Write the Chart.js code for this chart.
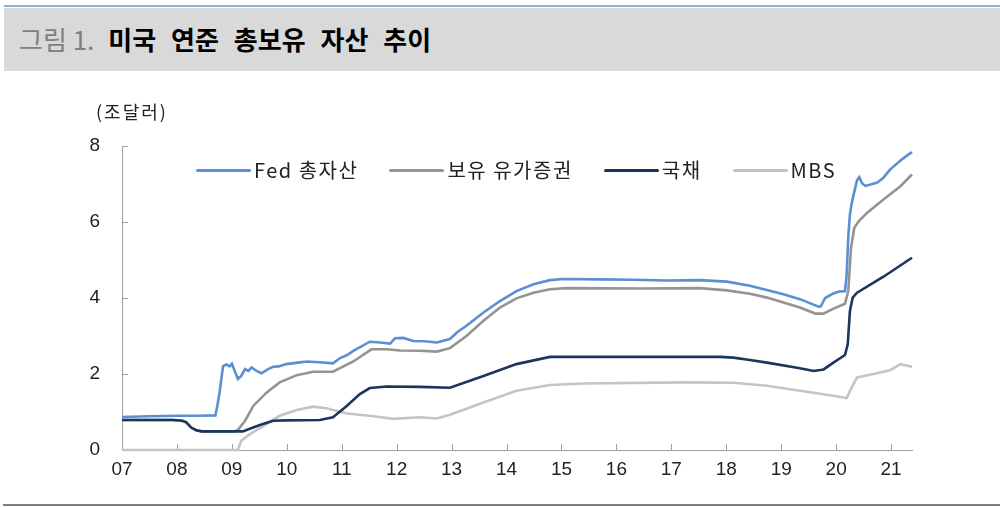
<!DOCTYPE html>
<html>
<head>
<meta charset="utf-8">
<script src="https://cdn.jsdelivr.net/npm/chart.js@4.4.1/dist/chart.umd.min.js"></script>
<style>
  html, body { margin:0; padding:0; background:#fff; width:1000px; height:507px; overflow:hidden; }
  body { position:relative; font-family:"Noto Sans CJK KR","Noto Sans",sans-serif; }
  #topline { position:absolute; left:4px; top:5px; width:996px; height:2px; background:#8CB0DE; }
  #titlebar { position:absolute; left:4px; top:8px; width:996px; height:63px; background:#D9D9D9; }
  #title { position:absolute; left:19px; top:7px; height:63px; line-height:63px; font-size:26px; white-space:nowrap; }
  #title .num { color:#808080; font-weight:400; }
  #title .main { color:#000; font-weight:700; word-spacing:9px; margin-left:14px; }
  #unit { position:absolute; left:96px; top:99px; font-size:18px; color:#222; line-height:24px; letter-spacing:2px; }
  #chartwrap { position:absolute; left:0; top:0; width:1000px; height:507px; }
  #legend { position:absolute; left:196px; top:157px; height:26px; display:flex; align-items:center; font-size:20px; color:#222; white-space:nowrap; }
  .item { display:flex; align-items:center; margin-right:31px; }
  .swatch { width:55px; height:3px; border-radius:2px; margin-right:3px; }
  .lbl { letter-spacing:1.5px; line-height:26px; }
  #bottomline { position:absolute; left:3px; top:504px; width:997px; height:2px; background:#808080; }
</style>
</head>
<body>
<div id="topline"></div>
<div id="titlebar"></div>
<div id="title"><span class="num">그림 1.</span><span class="main">미국 연준 총보유 자산 추이</span></div>
<div id="chartwrap"><canvas id="c" width="1000" height="507"></canvas></div>
<div id="unit">(조달러)</div>
<div id="legend"></div>
<div id="bottomline"></div>
<script>
// ---- Data (year as decimal, value in trillion USD) ----
const seriesNames = ['Fed 총자산', '보유 유가증권', '국채', 'MBS'];
const seriesColors = ['#5A8FD4', '#949494', '#1B365D', '#C4C4C4'];

const xTickYears = [2007,2008,2009,2010,2011,2012,2013,2014,2015,2016,2017,2018,2019,2020,2021];
const xTickLabels = ['07','08','09','10','11','12','13','14','15','16','17','18','19','20','21'];
const yTickValues = [0,2,4,6,8];

const fedX = [2007.0,2007.5,2008.0,2008.4,2008.70,2008.74,2008.78,2008.84,2008.90,2008.96,2009.0,2009.06,2009.11,2009.17,2009.24,2009.30,2009.36,2009.45,2009.54,2009.65,2009.75,2009.85,2009.99,2010.2,2010.36,2010.6,2010.84,2010.97,2011.1,2011.21,2011.35,2011.51,2011.7,2011.88,2011.97,2012.12,2012.3,2012.5,2012.73,2012.97,2013.1,2013.27,2013.58,2013.88,2014.18,2014.49,2014.79,2015.03,2015.7,2016.31,2016.92,2017.52,2018.01,2018.43,2019.04,2019.34,2019.68,2019.72,2019.80,2019.95,2020.05,2020.16,2020.19,2020.22,2020.25,2020.29,2020.33,2020.38,2020.42,2020.47,2020.53,2020.74,2020.85,2020.98,2021.17,2021.3,2021.38];
const fedY = [0.87,0.89,0.90,0.90,0.91,1.20,1.56,2.21,2.25,2.20,2.27,2.05,1.87,1.95,2.13,2.08,2.17,2.08,2.02,2.12,2.19,2.20,2.26,2.30,2.33,2.31,2.28,2.42,2.50,2.61,2.72,2.85,2.83,2.80,2.94,2.95,2.87,2.86,2.83,2.92,3.10,3.27,3.62,3.92,4.18,4.36,4.47,4.50,4.49,4.48,4.46,4.47,4.43,4.32,4.10,3.97,3.77,3.78,4.00,4.12,4.17,4.18,4.60,5.60,6.20,6.55,6.80,7.10,7.18,7.02,6.95,7.03,7.15,7.38,7.62,7.76,7.84];

const secX = [2007.0,2007.93,2008.10,2008.17,2008.26,2008.35,2008.45,2009.05,2009.11,2009.24,2009.39,2009.63,2009.87,2010.18,2010.48,2010.84,2011.21,2011.54,2011.82,2012.06,2012.42,2012.73,2012.97,2013.27,2013.58,2013.88,2014.18,2014.49,2014.79,2015.1,2016.5,2017.52,2018.01,2018.43,2018.74,2019.34,2019.62,2019.77,2019.95,2020.16,2020.22,2020.27,2020.33,2020.41,2020.56,2020.86,2021.17,2021.38];
const secY = [0.79,0.79,0.77,0.73,0.59,0.52,0.49,0.49,0.53,0.77,1.16,1.51,1.78,1.97,2.06,2.06,2.33,2.65,2.65,2.62,2.61,2.59,2.68,3.00,3.40,3.75,3.99,4.14,4.23,4.26,4.25,4.26,4.20,4.11,4.01,3.75,3.59,3.59,3.72,3.85,4.18,5.32,5.85,6.02,6.24,6.59,6.94,7.25];

const tsyX = [2007.0,2007.93,2008.10,2008.17,2008.26,2008.35,2008.45,2009.20,2009.35,2009.51,2009.75,2010.0,2010.6,2010.84,2011.09,2011.33,2011.51,2011.82,2012.42,2012.97,2013.58,2014.18,2014.79,2017.89,2018.13,2018.43,2018.74,2019.34,2019.59,2019.77,2019.95,2020.16,2020.21,2020.25,2020.30,2020.38,2020.86,2021.38];
const tsyY = [0.79,0.79,0.77,0.73,0.59,0.52,0.49,0.49,0.57,0.66,0.77,0.78,0.79,0.86,1.16,1.47,1.63,1.67,1.66,1.64,1.95,2.26,2.45,2.45,2.43,2.37,2.30,2.15,2.08,2.12,2.30,2.50,2.78,3.66,4.01,4.14,4.56,5.06];

const mbsX = [2007.0,2009.11,2009.17,2009.33,2009.63,2009.87,2010.18,2010.48,2010.72,2011.09,2011.51,2011.94,2012.42,2012.73,2012.97,2013.58,2014.18,2014.79,2015.4,2017.22,2018.13,2018.74,2019.34,2019.95,2020.19,2020.28,2020.38,2020.68,2020.98,2021.17,2021.38];
const mbsY = [0.00,0.00,0.24,0.42,0.68,0.90,1.05,1.14,1.10,0.96,0.90,0.82,0.86,0.83,0.93,1.25,1.56,1.71,1.75,1.78,1.77,1.69,1.56,1.43,1.37,1.64,1.91,2.00,2.10,2.26,2.19];

// ---- Build ----
function pts(xs, ys){ return xs.map((x,i)=>({x:x, y:ys[i]})); }
const allX = [fedX, secX, tsyX, mbsX];
const allY = [fedY, secY, tsyY, mbsY];
const drawOrder = [2, 3, 1, 4]; // lower = on top

const datasets = seriesNames.map((n,i)=>({
  label:n,
  data:pts(allX[i], allY[i]),
  borderColor:seriesColors[i],
  backgroundColor:seriesColors[i],
  borderWidth:2.6,
  pointRadius:0,
  tension:0,
  fill:false,
  order:drawOrder[i],
  clip:6
}));

// HTML legend
const leg = document.getElementById('legend');
seriesNames.forEach((n,i)=>{
  const it = document.createElement('div'); it.className='item';
  const sw = document.createElement('div'); sw.className='swatch'; sw.style.background=seriesColors[i];
  const lb = document.createElement('span'); lb.className='lbl'; lb.textContent=n;
  it.appendChild(sw); it.appendChild(lb); leg.appendChild(it);
});

const axisColor = '#A0A0A0';
const innerTicks = {
  id:'innerTicks',
  beforeDatasetsDraw(chart){
    const {ctx, chartArea, scales} = chart;
    ctx.save();
    ctx.strokeStyle = axisColor;
    ctx.lineWidth = 1;
    ctx.beginPath();
    yTickValues.forEach(v=>{
      const y = Math.round(scales.y.getPixelForValue(v)) + 0.5;
      ctx.moveTo(chartArea.left, y); ctx.lineTo(chartArea.left + 6, y);
    });
    xTickYears.forEach(v=>{
      if (v === xTickYears[0]) return;
      const x = Math.round(scales.x.getPixelForValue(v)) + 0.5;
      ctx.moveTo(x, chartArea.bottom); ctx.lineTo(x, chartArea.bottom - 6);
    });
    ctx.stroke();
    ctx.restore();
  }
};

new Chart(document.getElementById('c'), {
  type:'line',
  data:{ datasets },
  options:{
    responsive:false,
    animation:false,
    devicePixelRatio:1,
    layout:{ padding:{ left:0, right:88, top:146, bottom:0 } },
    plugins:{ legend:{ display:false }, tooltip:{ enabled:false } },
    scales:{
      x:{
        type:'linear',
        min:2007, max:2021.38,
        afterBuildTicks(scale){ scale.ticks = xTickYears.map(v=>({value:v})); },
        afterFit(scale){ scale.height = 57; },
        grid:{ display:true, drawOnChartArea:false, drawTicks:false, color:'rgba(0,0,0,0)' },
        border:{ display:true, color:axisColor, width:1 },
        ticks:{
          autoSkip:false, maxRotation:0, padding:8,
          color:'#222',
          font:{ family:'"Liberation Sans", Arial, sans-serif', size:19 },
          callback(v){ const i = xTickYears.indexOf(v); return i >= 0 ? xTickLabels[i] : ''; }
        }
      },
      y:{
        min:0, max:8,
        afterBuildTicks(scale){ scale.ticks = yTickValues.map(v=>({value:v})); },
        afterFit(scale){ scale.width = 122; },
        grid:{ display:true, drawOnChartArea:false, drawTicks:false, color:'rgba(0,0,0,0)' },
        border:{ display:true, color:axisColor, width:1 },
        ticks:{
          padding:22, color:'#222',
          font:{ family:'"Liberation Sans", Arial, sans-serif', size:19 }
        }
      }
    }
  },
  plugins:[innerTicks]
});
</script>
</body>
</html>
